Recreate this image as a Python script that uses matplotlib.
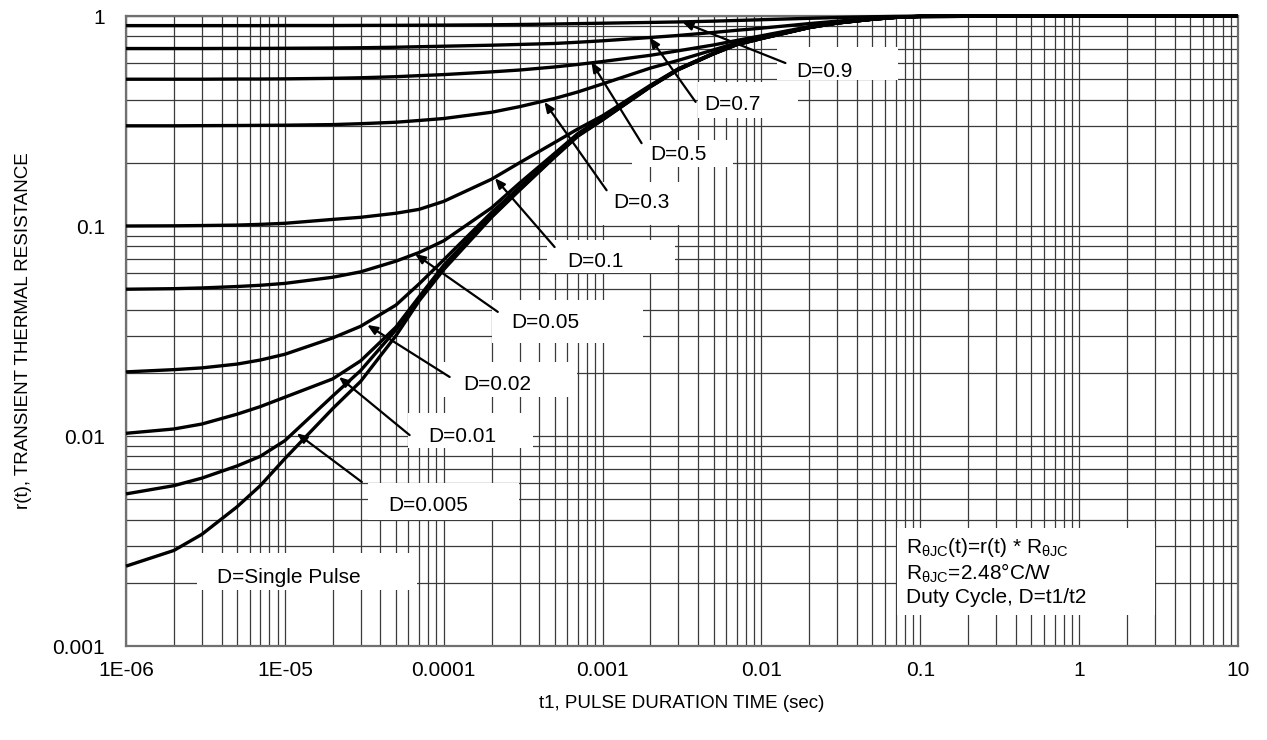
import numpy as np
import matplotlib
matplotlib.use("Agg")
import matplotlib.pyplot as plt
from matplotlib.patches import Rectangle

plt.rcParams['font.family'] = ['Liberation Sans', 'DejaVu Sans']
plt.rcParams['mathtext.fontset'] = 'custom'
plt.rcParams['mathtext.rm'] = 'Liberation Sans'

# ─── Data ────────────────────────────────────────────────────────────
t_pulse = [1e-6, 2e-6, 3e-6, 5e-6, 7e-6,
           1e-5, 2e-5, 3e-5, 5e-5, 7e-5,
           1e-4, 2e-4, 3e-4, 5e-4, 7e-4,
           1e-3, 2e-3, 3e-3, 5e-3, 7e-3,
           1e-2, 2e-2, 3e-2, 5e-2, 7e-2,
           0.1, 1, 10]

r_single = [0.0024, 0.00285, 0.0034, 0.0046, 0.0058,
            0.0078, 0.0135, 0.0182, 0.030, 0.0440,
            0.062, 0.110, 0.148, 0.213, 0.268,
            0.320, 0.460, 0.555, 0.660, 0.730,
            0.780, 0.880, 0.925, 0.965, 0.985,
            0.995, 1.0, 1.0]
r_d005 = [0.0053, 0.0058, 0.0063, 0.0072, 0.0080,
          0.0095, 0.0155, 0.0205, 0.032, 0.045,
          0.063, 0.111, 0.149, 0.214, 0.269,
          0.321, 0.461, 0.556, 0.661, 0.731,
          0.781, 0.881, 0.926, 0.965, 0.985,
          0.995, 1.0, 1.0]
r_d01 = [0.0103, 0.0108, 0.0114, 0.0127, 0.0138,
         0.0153, 0.0187, 0.0228, 0.0330, 0.0460,
         0.065, 0.113, 0.151, 0.216, 0.271,
         0.323, 0.462, 0.557, 0.662, 0.732,
         0.782, 0.881, 0.926, 0.966, 0.985,
         0.995, 1.0, 1.0]
r_d02 = [0.0202, 0.0207, 0.0211, 0.0220, 0.0230,
         0.0245, 0.0293, 0.0333, 0.042, 0.053,
         0.069, 0.116, 0.153, 0.218, 0.273,
         0.325, 0.463, 0.558, 0.663, 0.733,
         0.783, 0.882, 0.926, 0.966, 0.985,
         0.995, 1.0, 1.0]
r_d05 = [0.0500, 0.0503, 0.0507, 0.0515, 0.0522,
         0.0533, 0.0570, 0.0605, 0.0680, 0.0748,
         0.085, 0.122, 0.160, 0.222, 0.276,
         0.328, 0.465, 0.559, 0.664, 0.734,
         0.784, 0.883, 0.927, 0.966, 0.985,
         0.995, 1.0, 1.0]
r_d1 = [0.100, 0.1002, 0.1005, 0.101, 0.1018,
        0.103, 0.1075, 0.110, 0.115, 0.120,
        0.131, 0.167, 0.200, 0.250, 0.290,
        0.335, 0.468, 0.561, 0.665, 0.735,
        0.785, 0.884, 0.927, 0.966, 0.985,
        0.995, 1.0, 1.0]
r_d3 = [0.300, 0.300, 0.3005, 0.301, 0.3015,
        0.302, 0.304, 0.307, 0.312, 0.318,
        0.325, 0.348, 0.370, 0.405, 0.435,
        0.475, 0.565, 0.615, 0.690, 0.745,
        0.790, 0.886, 0.928, 0.967, 0.986,
        0.996, 1.0, 1.0]
r_d5 = [0.500, 0.500, 0.500, 0.501, 0.501,
        0.502, 0.505, 0.508, 0.514, 0.520,
        0.526, 0.542, 0.553, 0.572, 0.588,
        0.607, 0.650, 0.683, 0.728, 0.765,
        0.805, 0.890, 0.930, 0.968, 0.986,
        0.996, 1.0, 1.0]
r_d7 = [0.700, 0.700, 0.700, 0.701, 0.701,
        0.702, 0.704, 0.706, 0.710, 0.714,
        0.718, 0.726, 0.732, 0.740, 0.750,
        0.762, 0.790, 0.808, 0.835, 0.855,
        0.875, 0.920, 0.945, 0.975, 0.988,
        0.997, 1.0, 1.0]
r_d9 = [0.900, 0.900, 0.900, 0.900, 0.900,
        0.901, 0.901, 0.902, 0.903, 0.904,
        0.905, 0.908, 0.911, 0.916, 0.920,
        0.924, 0.932, 0.937, 0.945, 0.952,
        0.960, 0.975, 0.983, 0.992, 0.996,
        0.999, 1.0, 1.0]

curves = [r_single, r_d005, r_d01, r_d02, r_d05, r_d1, r_d3, r_d5, r_d7, r_d9]

x_ticks = [1e-6, 1e-5, 1e-4, 1e-3, 1e-2, 1e-1, 1, 10]
x_ticklabels = ['1E-06', '1E-05', '0.0001', '0.001', '0.01', '0.1', '1', '10']
y_ticks = [0.001, 0.01, 0.1, 1]
y_ticklabels = ['0.001', '0.01', '0.1', '1']

# label text, text anchor (t, r), arrow tip (t, r), arrow tail (t, r)
duty_labels = ['D=0.9', 'D=0.7', 'D=0.5', 'D=0.3', 'D=0.1',
               'D=0.05', 'D=0.02', 'D=0.01', 'D=0.005']
label_xy = [(0.0166, 0.547), (4.38e-3, 0.377), (2.0e-3, 0.218), (1.16e-3, 0.129),
            (6.03e-4, 0.0674), (2.68e-4, 0.0349), (1.32e-4, 0.0175),
            (8.05e-5, 0.0099), (4.45e-5, 0.00469)]
arrow_tip = [(3.18e-3, 0.936), (1.98e-3, 0.79), (8.5e-4, 0.604), (4.3e-4, 0.39),
             (2.1e-4, 0.169), (6.6e-5, 0.0736), (3.3e-5, 0.0338),
             (2.19e-5, 0.0191), (1.19e-5, 0.0103)]
arrow_tail = [(0.01416, 0.597), (3.85e-3, 0.39), (1.76e-3, 0.248), (1.06e-3, 0.148),
              (4.99e-4, 0.0794), (2.19e-4, 0.039), (1.09e-4, 0.0191),
              (6.1e-5, 0.0101), (3.05e-5, 0.00604)]
# ────────────────────────────────────────────────────────────────────

FS = 15

fig = plt.figure(figsize=(12.67, 7.4), dpi=100)
ax = fig.add_axes([126 / 1267, 1 - 646 / 740, 1112 / 1267, 630 / 740])
ax.set_xscale('log')
ax.set_yscale('log')
ax.set_xlim(1e-6, 10)
ax.set_ylim(0.001, 1)

ax.grid(True, which='both', color='#3a3a3a', lw=0.9, zorder=0)
ax.set_axisbelow(True)
for s in ax.spines.values():
    s.set_color('#707070')
    s.set_linewidth(1.6)

ax.set_xticks(x_ticks)
ax.set_xticklabels(x_ticklabels)
ax.set_yticks(y_ticks)
ax.set_yticklabels(y_ticklabels)
ax.tick_params(which='both', length=0, labelsize=FS)
ax.tick_params(axis='x', pad=11)
ax.tick_params(axis='y', pad=15)

for r in curves:
    ax.plot(t_pulse, r, color='black', lw=2.4, zorder=3, clip_on=False,
            solid_capstyle='butt', solid_joinstyle='round')

# white label boxes (axes fraction: x0, y0, x1, y1)
boxes = [(0.585, 0.898, 0.694, 0.951), (0.514, 0.838, 0.604, 0.895),
         (0.455, 0.760, 0.546, 0.803), (0.423, 0.668, 0.507, 0.737),
         (0.379, 0.592, 0.494, 0.644), (0.329, 0.481, 0.465, 0.549),
         (0.285, 0.395, 0.406, 0.451), (0.254, 0.314, 0.366, 0.370),
         (0.218, 0.200, 0.353, 0.259), (0.064, 0.089, 0.262, 0.148),
         (0.693, 0.049, 0.925, 0.187)]
for x0, y0, x1, y1 in boxes:
    ax.add_patch(Rectangle((x0, y0), x1 - x0, y1 - y0, transform=ax.transAxes,
                           fc='white', ec='none', zorder=1))

for lab, xy, tip, tail in zip(duty_labels, label_xy, arrow_tip, arrow_tail):
    ax.text(xy[0], xy[1], lab, fontsize=FS, ha='left', va='center', zorder=5)
    ax.annotate('', xy=tip, xytext=tail,
                arrowprops=dict(arrowstyle='-|>,head_length=0.6,head_width=0.25',
                                color='black', lw=1.6, shrinkA=0, shrinkB=0),
                zorder=4)

ax.text(3.73e-6, 0.00211, 'D=Single Pulse', fontsize=FS, ha='left', va='center', zorder=5)

info_x = 0.0817
ax.text(info_x, 0.00293, r'R$_{\mathregular{θJC}}$(t)=r(t) * R$_{\mathregular{θJC}}$',
        fontsize=FS, ha='left', va='center', zorder=5)
ax.text(info_x, 0.00223, r'R$_{\mathregular{θJC}}$=2.48°C/W',
        fontsize=FS, ha='left', va='center', zorder=5)
ax.text(info_x, 0.00171, 'Duty Cycle, D=t1/t2',
        fontsize=FS, ha='left', va='center', zorder=5)

fig.text(24 / 1267, 1 - 331 / 740, 'r(t), TRANSIENT THERMAL RESISTANCE',
         rotation=90, ha='center', va='center', fontsize=13.5)
fig.text(682 / 1267, 1 - 703 / 740, 't1, PULSE DURATION TIME (sec)',
         ha='center', va='center', fontsize=13.5)

fig.savefig('out.png', dpi=100)
